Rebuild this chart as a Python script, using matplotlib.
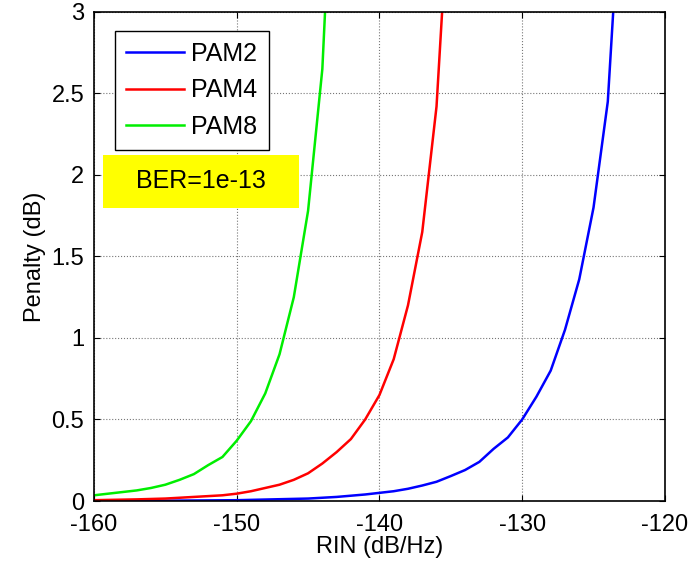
import matplotlib.pyplot as plt
from matplotlib.patches import Rectangle

plt.rcParams['font.family'] = ['Liberation Sans', 'DejaVu Sans']
plt.rcParams['axes.unicode_minus'] = False

# penalty (dB) vs RIN (dB/Hz)
rin_pam2 = [-160, -155, -150, -145, -143, -141, -140, -139, -138, -137, -136, -135,
            -134, -133, -132, -131, -130, -129, -128, -127, -126, -125, -124, -123]
pen_pam2 = [0.0, 0.002, 0.005, 0.015, 0.025, 0.04, 0.05, 0.06, 0.075, 0.095, 0.118, 0.153,
            0.19, 0.24, 0.32, 0.39, 0.5, 0.64, 0.8, 1.05, 1.36, 1.8, 2.45, 3.9]

rin_pam4 = [-160, -157, -155, -153, -151, -150, -149, -148, -147, -146, -145, -144,
            -143, -142, -141, -140, -139, -138, -137, -136, -135]
pen_pam4 = [0.005, 0.01, 0.015, 0.025, 0.035, 0.045, 0.06, 0.08, 0.1, 0.13, 0.17, 0.23,
            0.3, 0.38, 0.5, 0.65, 0.87, 1.2, 1.65, 2.42, 3.9]

rin_pam8 = [-160, -159, -158, -157, -156, -155, -154, -153, -152, -151, -150, -149,
            -148, -147, -146, -145, -144, -143]
pen_pam8 = [0.035, 0.045, 0.055, 0.065, 0.08, 0.1, 0.13, 0.165, 0.22, 0.27, 0.37, 0.49,
            0.66, 0.9, 1.25, 1.78, 2.65, 4.5]

xticks = [-160, -150, -140, -130, -120]
yticks = [0, 0.5, 1, 1.5, 2, 2.5, 3]
ytick_labels = ['0', '0.5', '1', '1.5', '2', '2.5', '3']

fig = plt.figure(figsize=(6.89, 5.69), dpi=100)
ax = fig.add_axes([0.1364, 0.1195, 0.8286, 0.8595])

ax.plot(rin_pam2, pen_pam2, color='#0000ff', lw=1.8, label='PAM2')
ax.plot(rin_pam4, pen_pam4, color='#ff0000', lw=1.8, label='PAM4')
ax.plot(rin_pam8, pen_pam8, color='#00ee00', lw=1.8, label='PAM8')

ax.set_xlim(-160, -120)
ax.set_ylim(0, 3)
ax.set_xticks(xticks)
ax.set_yticks(yticks)
ax.set_yticklabels(ytick_labels)
ax.grid(True, color='#777777', linestyle=':', linewidth=0.8)
ax.tick_params(direction='in', top=True, right=True, labelsize=17, length=4)
ax.tick_params(axis='x', pad=9)
ax.tick_params(axis='y', pad=7)
for s in ax.spines.values():
    s.set_linewidth(1.2)

ax.set_xlabel('RIN (dB/Hz)', fontsize=17, labelpad=0)
ax.set_ylabel('Penalty (dB)', fontsize=17, labelpad=4)

leg = ax.legend(loc='upper left', bbox_to_anchor=(0.037, 0.962), fontsize=18,
                fancybox=False, framealpha=1, edgecolor='black', handlelength=2.3,
                handletextpad=0.3, borderpad=0.45, labelspacing=0.5, borderaxespad=0)
leg.get_frame().set_linewidth(1.0)

# yellow annotation box
ax.add_patch(Rectangle((0.016, 0.599), 0.343, 0.109, transform=ax.transAxes,
                       facecolor='#ffff00', edgecolor='none', zorder=3))
ax.text(0.187, 0.654, 'BER=1e-13', transform=ax.transAxes, fontsize=18,
        ha='center', va='center', zorder=4)

fig.savefig('out.png', dpi=100)
